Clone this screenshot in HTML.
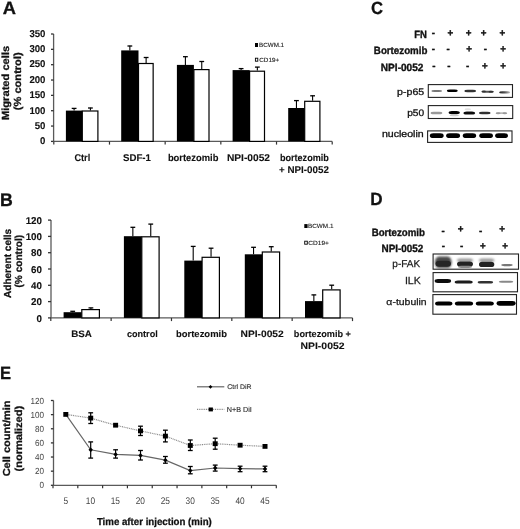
<!DOCTYPE html>
<html><head><meta charset="utf-8"><style>
html,body{margin:0;padding:0;background:#fff;}
svg{display:block;font-family:"Liberation Sans", sans-serif;text-rendering:geometricPrecision;filter:grayscale(1) blur(0.35px);}
</style></head><body>
<svg width="520" height="529" viewBox="0 0 520 529">
<defs>
<linearGradient id="gp5" x1="0" x2="1" y1="0" y2="0"><stop offset="0" stop-color="#222"/><stop offset="0.5" stop-color="#555"/><stop offset="1" stop-color="#bbb"/></linearGradient>
<filter id="b5" x="-20%" y="-100%" width="140%" height="300%"><feGaussianBlur stdDeviation="0.5"/></filter>
<filter id="b6" x="-20%" y="-100%" width="140%" height="300%"><feGaussianBlur stdDeviation="0.6"/></filter>
<filter id="b7" x="-20%" y="-100%" width="140%" height="300%"><feGaussianBlur stdDeviation="0.7"/></filter>
<filter id="b8" x="-20%" y="-100%" width="140%" height="300%"><feGaussianBlur stdDeviation="0.8"/></filter>
<filter id="b10" x="-20%" y="-100%" width="140%" height="300%"><feGaussianBlur stdDeviation="1.0"/></filter>
</defs>
<rect width="520" height="529" fill="#fff"/>
<text x="2.74" y="13.60" font-size="17.88" font-weight="bold" fill="#111" textLength="13.24" lengthAdjust="spacingAndGlyphs" stroke="#111" stroke-width="0.3">A</text>
<line x1="53.60" y1="34.00" x2="53.60" y2="141.40" stroke="#5a5a5a" stroke-width="1.3" />
<line x1="51.00" y1="141.40" x2="53.60" y2="141.40" stroke="#333" stroke-width="1.3" />
<text x="40.06" y="144.20" font-size="9.88" font-weight="bold" fill="#111" textLength="5.34" lengthAdjust="spacingAndGlyphs" stroke="#111" stroke-width="0.1">0</text>
<line x1="51.00" y1="126.06" x2="53.60" y2="126.06" stroke="#333" stroke-width="1.3" />
<text x="34.72" y="128.86" font-size="9.88" font-weight="bold" fill="#111" textLength="10.68" lengthAdjust="spacingAndGlyphs" stroke="#111" stroke-width="0.1">50</text>
<line x1="51.00" y1="110.71" x2="53.60" y2="110.71" stroke="#333" stroke-width="1.3" />
<text x="29.38" y="113.51" font-size="9.88" font-weight="bold" fill="#111" textLength="16.01" lengthAdjust="spacingAndGlyphs" stroke="#111" stroke-width="0.1">100</text>
<line x1="51.00" y1="95.37" x2="53.60" y2="95.37" stroke="#333" stroke-width="1.3" />
<text x="29.38" y="98.17" font-size="9.88" font-weight="bold" fill="#111" textLength="16.01" lengthAdjust="spacingAndGlyphs" stroke="#111" stroke-width="0.1">150</text>
<line x1="51.00" y1="80.03" x2="53.60" y2="80.03" stroke="#333" stroke-width="1.3" />
<text x="29.38" y="82.83" font-size="9.88" font-weight="bold" fill="#111" textLength="16.01" lengthAdjust="spacingAndGlyphs" stroke="#111" stroke-width="0.1">200</text>
<line x1="51.00" y1="64.69" x2="53.60" y2="64.69" stroke="#333" stroke-width="1.3" />
<text x="29.38" y="67.49" font-size="9.88" font-weight="bold" fill="#111" textLength="16.01" lengthAdjust="spacingAndGlyphs" stroke="#111" stroke-width="0.1">250</text>
<line x1="51.00" y1="49.34" x2="53.60" y2="49.34" stroke="#333" stroke-width="1.3" />
<text x="29.38" y="52.14" font-size="9.88" font-weight="bold" fill="#111" textLength="16.01" lengthAdjust="spacingAndGlyphs" stroke="#111" stroke-width="0.1">300</text>
<line x1="51.00" y1="34.00" x2="53.60" y2="34.00" stroke="#333" stroke-width="1.3" />
<text x="29.38" y="36.80" font-size="9.88" font-weight="bold" fill="#111" textLength="16.01" lengthAdjust="spacingAndGlyphs" stroke="#111" stroke-width="0.1">350</text>
<line x1="53.60" y1="141.40" x2="332.20" y2="141.40" stroke="#5a5a5a" stroke-width="1.3" />
<line x1="53.80" y1="141.40" x2="53.80" y2="144.60" stroke="#333" stroke-width="1.2" />
<line x1="109.48" y1="141.40" x2="109.48" y2="144.60" stroke="#333" stroke-width="1.2" />
<line x1="165.16" y1="141.40" x2="165.16" y2="144.60" stroke="#333" stroke-width="1.2" />
<line x1="220.84" y1="141.40" x2="220.84" y2="144.60" stroke="#333" stroke-width="1.2" />
<line x1="276.52" y1="141.40" x2="276.52" y2="144.60" stroke="#333" stroke-width="1.2" />
<line x1="332.20" y1="141.40" x2="332.20" y2="144.60" stroke="#333" stroke-width="1.2" />
<rect x="65.90" y="110.60" width="16.40" height="30.80" fill="#000" stroke="none" stroke-width="1" />
<rect x="82.30" y="111.00" width="15.60" height="30.40" fill="#fff" stroke="#000" stroke-width="1.2" />
<line x1="74.10" y1="108.20" x2="74.10" y2="110.60" stroke="#000" stroke-width="1.1" />
<line x1="71.70" y1="108.40" x2="76.50" y2="108.40" stroke="#000" stroke-width="1.3" />
<line x1="90.40" y1="107.80" x2="90.40" y2="110.40" stroke="#000" stroke-width="1.1" />
<line x1="88.00" y1="108.00" x2="92.80" y2="108.00" stroke="#000" stroke-width="1.3" />
<rect x="121.20" y="50.40" width="17.30" height="91.00" fill="#000" stroke="none" stroke-width="1" />
<rect x="138.50" y="63.50" width="14.65" height="77.90" fill="#fff" stroke="#000" stroke-width="1.2" />
<line x1="129.85" y1="45.80" x2="129.85" y2="50.40" stroke="#000" stroke-width="1.1" />
<line x1="127.45" y1="46.00" x2="132.25" y2="46.00" stroke="#000" stroke-width="1.3" />
<line x1="146.12" y1="57.30" x2="146.12" y2="62.90" stroke="#000" stroke-width="1.1" />
<line x1="143.72" y1="57.50" x2="148.53" y2="57.50" stroke="#000" stroke-width="1.3" />
<rect x="176.90" y="64.90" width="17.00" height="76.50" fill="#000" stroke="none" stroke-width="1" />
<rect x="193.90" y="69.60" width="15.10" height="71.80" fill="#fff" stroke="#000" stroke-width="1.2" />
<line x1="185.40" y1="56.50" x2="185.40" y2="64.90" stroke="#000" stroke-width="1.1" />
<line x1="183.00" y1="56.70" x2="187.80" y2="56.70" stroke="#000" stroke-width="1.3" />
<line x1="201.75" y1="61.30" x2="201.75" y2="69.00" stroke="#000" stroke-width="1.1" />
<line x1="199.35" y1="61.50" x2="204.15" y2="61.50" stroke="#000" stroke-width="1.3" />
<rect x="232.60" y="70.10" width="17.00" height="71.30" fill="#000" stroke="none" stroke-width="1" />
<rect x="249.60" y="71.20" width="14.90" height="70.20" fill="#fff" stroke="#000" stroke-width="1.2" />
<line x1="241.10" y1="68.40" x2="241.10" y2="70.10" stroke="#000" stroke-width="1.1" />
<line x1="238.70" y1="68.60" x2="243.50" y2="68.60" stroke="#000" stroke-width="1.3" />
<line x1="257.35" y1="66.90" x2="257.35" y2="70.60" stroke="#000" stroke-width="1.1" />
<line x1="254.95" y1="67.10" x2="259.75" y2="67.10" stroke="#000" stroke-width="1.3" />
<rect x="288.20" y="108.00" width="16.50" height="33.40" fill="#000" stroke="none" stroke-width="1" />
<rect x="304.70" y="101.30" width="15.20" height="40.10" fill="#fff" stroke="#000" stroke-width="1.2" />
<line x1="296.45" y1="100.40" x2="296.45" y2="108.00" stroke="#000" stroke-width="1.1" />
<line x1="294.05" y1="100.60" x2="298.85" y2="100.60" stroke="#000" stroke-width="1.3" />
<line x1="312.60" y1="95.60" x2="312.60" y2="100.70" stroke="#000" stroke-width="1.1" />
<line x1="310.20" y1="95.80" x2="315.00" y2="95.80" stroke="#000" stroke-width="1.3" />
<text x="74.42" y="160.70" font-size="9.80" font-weight="bold" fill="#111" textLength="15.83" lengthAdjust="spacingAndGlyphs" stroke="#111" stroke-width="0.1">Ctrl</text>
<text x="123.02" y="160.70" font-size="9.80" font-weight="bold" fill="#111" textLength="27.95" lengthAdjust="spacingAndGlyphs" stroke="#111" stroke-width="0.1">SDF-1</text>
<text x="167.88" y="160.70" font-size="9.80" font-weight="bold" fill="#111" textLength="50.50" lengthAdjust="spacingAndGlyphs" stroke="#111" stroke-width="0.1">bortezomib</text>
<text x="226.92" y="160.70" font-size="9.80" font-weight="bold" fill="#111" textLength="43.09" lengthAdjust="spacingAndGlyphs" stroke="#111" stroke-width="0.1">NPI-0052</text>
<text x="279.90" y="160.90" font-size="9.80" font-weight="bold" fill="#111" textLength="48.97" lengthAdjust="spacingAndGlyphs" stroke="#111" stroke-width="0.1">bortezomib</text>
<text x="279.09" y="172.70" font-size="9.80" font-weight="bold" fill="#111" textLength="49.80" lengthAdjust="spacingAndGlyphs" stroke="#111" stroke-width="0.1">+ NPI-0052</text>
<rect x="255.00" y="43.00" width="3.00" height="4.00" fill="#000" stroke="none" stroke-width="1" />
<text x="259.09" y="47.00" font-size="6.16" font-weight="normal" fill="#222" textLength="25.02" lengthAdjust="spacingAndGlyphs" stroke="#222" stroke-width="0.12">BCWM.1</text>
<rect x="255.40" y="58.20" width="2.40" height="3.00" fill="#fff" stroke="#000" stroke-width="0.9" />
<text x="259.28" y="61.60" font-size="6.16" font-weight="normal" fill="#222" textLength="19.83" lengthAdjust="spacingAndGlyphs" stroke="#222" stroke-width="0.12">CD19+</text>
<text transform="translate(8.70,119.30) rotate(-90)" x="-0.74" y="0" font-size="10.32" font-weight="bold" fill="#111" textLength="74.20" lengthAdjust="spacingAndGlyphs" stroke="#111" stroke-width="0.28">Migrated cells</text>
<text transform="translate(20.80,109.60) rotate(-90)" x="-0.55" y="0" font-size="10.32" font-weight="bold" fill="#111" textLength="57.80" lengthAdjust="spacingAndGlyphs" stroke="#111" stroke-width="0.28">(% control)</text>
<text x="0.02" y="206.00" font-size="18.31" font-weight="bold" fill="#111" textLength="12.79" lengthAdjust="spacingAndGlyphs" stroke="#111" stroke-width="0.3">B</text>
<line x1="51.00" y1="220.10" x2="51.00" y2="317.90" stroke="#5a5a5a" stroke-width="1.3" />
<line x1="48.00" y1="317.90" x2="51.00" y2="317.90" stroke="#333" stroke-width="1.3" />
<text x="36.56" y="321.50" font-size="9.88" font-weight="bold" fill="#111" textLength="5.44" lengthAdjust="spacingAndGlyphs" stroke="#111" stroke-width="0.1">0</text>
<line x1="48.00" y1="301.60" x2="51.00" y2="301.60" stroke="#333" stroke-width="1.3" />
<text x="31.12" y="305.20" font-size="9.88" font-weight="bold" fill="#111" textLength="10.88" lengthAdjust="spacingAndGlyphs" stroke="#111" stroke-width="0.1">20</text>
<line x1="48.00" y1="285.30" x2="51.00" y2="285.30" stroke="#333" stroke-width="1.3" />
<text x="31.12" y="288.90" font-size="9.88" font-weight="bold" fill="#111" textLength="10.88" lengthAdjust="spacingAndGlyphs" stroke="#111" stroke-width="0.1">40</text>
<line x1="48.00" y1="269.00" x2="51.00" y2="269.00" stroke="#333" stroke-width="1.3" />
<text x="31.12" y="272.60" font-size="9.88" font-weight="bold" fill="#111" textLength="10.88" lengthAdjust="spacingAndGlyphs" stroke="#111" stroke-width="0.1">60</text>
<line x1="48.00" y1="252.70" x2="51.00" y2="252.70" stroke="#333" stroke-width="1.3" />
<text x="31.12" y="256.30" font-size="9.88" font-weight="bold" fill="#111" textLength="10.88" lengthAdjust="spacingAndGlyphs" stroke="#111" stroke-width="0.1">80</text>
<line x1="48.00" y1="236.40" x2="51.00" y2="236.40" stroke="#333" stroke-width="1.3" />
<text x="25.68" y="240.00" font-size="9.88" font-weight="bold" fill="#111" textLength="16.32" lengthAdjust="spacingAndGlyphs" stroke="#111" stroke-width="0.1">100</text>
<line x1="48.00" y1="220.10" x2="51.00" y2="220.10" stroke="#333" stroke-width="1.3" />
<text x="25.68" y="223.70" font-size="9.88" font-weight="bold" fill="#111" textLength="16.32" lengthAdjust="spacingAndGlyphs" stroke="#111" stroke-width="0.1">120</text>
<line x1="51.00" y1="317.90" x2="352.50" y2="317.90" stroke="#5a5a5a" stroke-width="1.3" />
<line x1="50.80" y1="317.90" x2="50.80" y2="321.10" stroke="#333" stroke-width="1.2" />
<line x1="111.14" y1="317.90" x2="111.14" y2="321.10" stroke="#333" stroke-width="1.2" />
<line x1="171.48" y1="317.90" x2="171.48" y2="321.10" stroke="#333" stroke-width="1.2" />
<line x1="231.82" y1="317.90" x2="231.82" y2="321.10" stroke="#333" stroke-width="1.2" />
<line x1="292.16" y1="317.90" x2="292.16" y2="321.10" stroke="#333" stroke-width="1.2" />
<line x1="352.50" y1="317.90" x2="352.50" y2="321.10" stroke="#333" stroke-width="1.2" />
<rect x="63.60" y="312.20" width="18.20" height="5.70" fill="#000" stroke="none" stroke-width="1" />
<rect x="81.80" y="309.60" width="17.60" height="8.30" fill="#fff" stroke="#000" stroke-width="1.2" />
<line x1="72.70" y1="311.10" x2="72.70" y2="312.20" stroke="#000" stroke-width="1.1" />
<line x1="70.30" y1="311.30" x2="75.10" y2="311.30" stroke="#000" stroke-width="1.3" />
<line x1="90.90" y1="307.70" x2="90.90" y2="309.00" stroke="#000" stroke-width="1.1" />
<line x1="88.50" y1="307.90" x2="93.30" y2="307.90" stroke="#000" stroke-width="1.3" />
<rect x="123.90" y="236.20" width="17.90" height="81.70" fill="#000" stroke="none" stroke-width="1" />
<rect x="141.80" y="236.80" width="17.30" height="81.10" fill="#fff" stroke="#000" stroke-width="1.2" />
<line x1="132.85" y1="227.10" x2="132.85" y2="236.20" stroke="#000" stroke-width="1.1" />
<line x1="130.45" y1="227.30" x2="135.25" y2="227.30" stroke="#000" stroke-width="1.3" />
<line x1="150.75" y1="223.90" x2="150.75" y2="236.20" stroke="#000" stroke-width="1.1" />
<line x1="148.35" y1="224.10" x2="153.15" y2="224.10" stroke="#000" stroke-width="1.3" />
<rect x="184.30" y="260.60" width="17.80" height="57.30" fill="#000" stroke="none" stroke-width="1" />
<rect x="202.10" y="257.30" width="17.30" height="60.60" fill="#fff" stroke="#000" stroke-width="1.2" />
<line x1="193.20" y1="246.20" x2="193.20" y2="260.60" stroke="#000" stroke-width="1.1" />
<line x1="190.80" y1="246.40" x2="195.60" y2="246.40" stroke="#000" stroke-width="1.3" />
<line x1="211.05" y1="248.00" x2="211.05" y2="256.70" stroke="#000" stroke-width="1.1" />
<line x1="208.65" y1="248.20" x2="213.45" y2="248.20" stroke="#000" stroke-width="1.3" />
<rect x="244.80" y="254.30" width="17.50" height="63.60" fill="#000" stroke="none" stroke-width="1" />
<rect x="262.30" y="252.00" width="17.30" height="65.90" fill="#fff" stroke="#000" stroke-width="1.2" />
<line x1="253.55" y1="247.10" x2="253.55" y2="254.30" stroke="#000" stroke-width="1.1" />
<line x1="251.15" y1="247.30" x2="255.95" y2="247.30" stroke="#000" stroke-width="1.3" />
<line x1="271.25" y1="246.50" x2="271.25" y2="251.40" stroke="#000" stroke-width="1.1" />
<line x1="268.85" y1="246.70" x2="273.65" y2="246.70" stroke="#000" stroke-width="1.3" />
<rect x="305.00" y="301.10" width="17.70" height="16.80" fill="#000" stroke="none" stroke-width="1" />
<rect x="322.70" y="289.90" width="17.40" height="28.00" fill="#fff" stroke="#000" stroke-width="1.2" />
<line x1="313.85" y1="294.70" x2="313.85" y2="301.10" stroke="#000" stroke-width="1.1" />
<line x1="311.45" y1="294.90" x2="316.25" y2="294.90" stroke="#000" stroke-width="1.3" />
<line x1="331.70" y1="285.00" x2="331.70" y2="289.30" stroke="#000" stroke-width="1.1" />
<line x1="329.30" y1="285.20" x2="334.10" y2="285.20" stroke="#000" stroke-width="1.3" />
<text x="71.24" y="337.10" font-size="9.31" font-weight="bold" fill="#111" textLength="20.72" lengthAdjust="spacingAndGlyphs" stroke="#111" stroke-width="0.1">BSA</text>
<text x="126.94" y="337.10" font-size="9.31" font-weight="bold" fill="#111" textLength="30.80" lengthAdjust="spacingAndGlyphs" stroke="#111" stroke-width="0.1">control</text>
<text x="175.98" y="336.80" font-size="9.31" font-weight="bold" fill="#111" textLength="51.01" lengthAdjust="spacingAndGlyphs" stroke="#111" stroke-width="0.1">bortezomib</text>
<text x="240.52" y="336.80" font-size="9.31" font-weight="bold" fill="#111" textLength="43.19" lengthAdjust="spacingAndGlyphs" stroke="#111" stroke-width="0.1">NPI-0052</text>
<text x="293.80" y="336.90" font-size="9.31" font-weight="bold" fill="#111" textLength="57.17" lengthAdjust="spacingAndGlyphs" stroke="#111" stroke-width="0.1">bortezomib +</text>
<text x="300.50" y="348.70" font-size="9.31" font-weight="bold" fill="#111" textLength="44.01" lengthAdjust="spacingAndGlyphs" stroke="#111" stroke-width="0.1">NPI-0052</text>
<rect x="304.30" y="224.10" width="3.30" height="3.90" fill="#000" stroke="none" stroke-width="1" />
<text x="308.08" y="228.20" font-size="6.16" font-weight="normal" fill="#222" textLength="25.33" lengthAdjust="spacingAndGlyphs" stroke="#222" stroke-width="0.12">BCWM.1</text>
<rect x="304.70" y="241.20" width="2.60" height="3.00" fill="#fff" stroke="#000" stroke-width="0.9" />
<text x="308.27" y="244.70" font-size="6.16" font-weight="normal" fill="#222" textLength="20.66" lengthAdjust="spacingAndGlyphs" stroke="#222" stroke-width="0.12">CD19+</text>
<text transform="translate(11.30,297.70) rotate(-90)" x="-0.25" y="0" font-size="10.17" font-weight="bold" fill="#111" textLength="69.06" lengthAdjust="spacingAndGlyphs" stroke="#111" stroke-width="0.28">Adherent cells</text>
<text transform="translate(21.60,287.00) rotate(-90)" x="-0.50" y="0" font-size="10.17" font-weight="bold" fill="#111" textLength="52.71" lengthAdjust="spacingAndGlyphs" stroke="#111" stroke-width="0.28">(% control)</text>
<text x="371.12" y="13.80" font-size="17.73" font-weight="bold" fill="#111" textLength="12.04" lengthAdjust="spacingAndGlyphs" stroke="#111" stroke-width="0.3">C</text>
<text x="414.16" y="37.50" font-size="10.47" font-weight="bold" fill="#111" textLength="12.68" lengthAdjust="spacingAndGlyphs" stroke="#111" stroke-width="0.35">FN</text>
<text x="373.85" y="53.80" font-size="10.47" font-weight="bold" fill="#111" textLength="53.55" lengthAdjust="spacingAndGlyphs" stroke="#111" stroke-width="0.35">Bortezomib</text>
<text x="380.83" y="70.80" font-size="10.47" font-weight="bold" fill="#111" textLength="42.58" lengthAdjust="spacingAndGlyphs" stroke="#111" stroke-width="0.35">NPI-0052</text>
<text x="431.87" y="35.80" font-size="9.80" font-weight="bold" fill="#111" textLength="3.26" lengthAdjust="spacingAndGlyphs" stroke="#111" stroke-width="0.35">-</text>
<text x="447.43" y="35.80" font-size="9.80" font-weight="bold" fill="#111" textLength="5.72" lengthAdjust="spacingAndGlyphs" stroke="#111" stroke-width="0.35">+</text>
<text x="465.83" y="35.80" font-size="9.80" font-weight="bold" fill="#111" textLength="5.72" lengthAdjust="spacingAndGlyphs" stroke="#111" stroke-width="0.35">+</text>
<text x="480.63" y="35.80" font-size="9.80" font-weight="bold" fill="#111" textLength="5.72" lengthAdjust="spacingAndGlyphs" stroke="#111" stroke-width="0.35">+</text>
<text x="499.53" y="35.80" font-size="9.80" font-weight="bold" fill="#111" textLength="5.72" lengthAdjust="spacingAndGlyphs" stroke="#111" stroke-width="0.35">+</text>
<text x="431.87" y="51.50" font-size="9.80" font-weight="bold" fill="#111" textLength="3.26" lengthAdjust="spacingAndGlyphs" stroke="#111" stroke-width="0.35">-</text>
<text x="446.57" y="51.50" font-size="9.80" font-weight="bold" fill="#111" textLength="3.26" lengthAdjust="spacingAndGlyphs" stroke="#111" stroke-width="0.35">-</text>
<text x="466.13" y="51.50" font-size="9.80" font-weight="bold" fill="#111" textLength="5.72" lengthAdjust="spacingAndGlyphs" stroke="#111" stroke-width="0.35">+</text>
<text x="483.67" y="51.50" font-size="9.80" font-weight="bold" fill="#111" textLength="3.26" lengthAdjust="spacingAndGlyphs" stroke="#111" stroke-width="0.35">-</text>
<text x="500.13" y="51.50" font-size="9.80" font-weight="bold" fill="#111" textLength="5.72" lengthAdjust="spacingAndGlyphs" stroke="#111" stroke-width="0.35">+</text>
<text x="432.17" y="69.20" font-size="9.80" font-weight="bold" fill="#111" textLength="3.26" lengthAdjust="spacingAndGlyphs" stroke="#111" stroke-width="0.35">-</text>
<text x="447.37" y="69.20" font-size="9.80" font-weight="bold" fill="#111" textLength="3.26" lengthAdjust="spacingAndGlyphs" stroke="#111" stroke-width="0.35">-</text>
<text x="465.97" y="69.20" font-size="9.80" font-weight="bold" fill="#111" textLength="3.26" lengthAdjust="spacingAndGlyphs" stroke="#111" stroke-width="0.35">-</text>
<text x="482.03" y="69.20" font-size="9.80" font-weight="bold" fill="#111" textLength="5.72" lengthAdjust="spacingAndGlyphs" stroke="#111" stroke-width="0.35">+</text>
<text x="500.13" y="69.20" font-size="9.80" font-weight="bold" fill="#111" textLength="5.72" lengthAdjust="spacingAndGlyphs" stroke="#111" stroke-width="0.35">+</text>
<rect x="428.30" y="84.60" width="84.20" height="12.80" fill="#fff" stroke="#222" stroke-width="1.1" />
<rect x="428.30" y="105.60" width="84.40" height="12.90" fill="#fff" stroke="#222" stroke-width="1.1" />
<rect x="427.60" y="130.90" width="84.40" height="11.50" fill="#fff" stroke="#222" stroke-width="1.1" />
<rect x="431.3" y="90.10" width="10.80" height="2.0" rx="3.20" ry="1.0" fill="#777" opacity="1" filter="url(#b5)"/>
<rect x="446.9" y="89.40" width="10.80" height="2.6" rx="3.20" ry="1.3" fill="#000" opacity="1" filter="url(#b5)"/>
<rect x="464.4" y="89.80" width="11.60" height="2.4" rx="3.20" ry="1.2" fill="#333" opacity="1" filter="url(#b5)"/>
<rect x="481.5" y="90.75" width="12.20" height="1.9" rx="3.20" ry="0.95" fill="#555" opacity="1" filter="url(#b5)"/>
<rect x="481.5" y="90.60" width="4.50" height="2.0" rx="2.25" ry="1.0" fill="#333" opacity="1" filter="url(#b5)"/>
<rect x="488.5" y="90.80" width="5.20" height="2.0" rx="2.60" ry="1.0" fill="#333" opacity="1" filter="url(#b5)"/>
<rect x="499.1" y="91.35" width="11.10" height="2.1" rx="3.20" ry="1.05" fill="url(#gp5)" opacity="1" filter="url(#b5)"/>
<rect x="430.6" y="111.70" width="11.70" height="2.6" rx="3.20" ry="1.3" fill="#999" opacity="1" filter="url(#b6)"/>
<rect x="448.6" y="110.90" width="11.20" height="3.4" rx="3.20" ry="1.7" fill="#000" opacity="1" filter="url(#b5)"/>
<rect x="449.5" y="114.60" width="9.50" height="1.6" rx="3.20" ry="0.8" fill="#ccc" opacity="1" filter="url(#b7)"/>
<rect x="463.5" y="111.40" width="11.60" height="3.2" rx="3.20" ry="1.6" fill="#111" opacity="1" filter="url(#b5)"/>
<rect x="464.5" y="108.20" width="6.50" height="2.0" rx="3.20" ry="1.0" fill="#e0e0e0" opacity="1" filter="url(#b7)"/>
<rect x="479.0" y="111.80" width="11.50" height="2.4" rx="3.20" ry="1.2" fill="#333" opacity="1" filter="url(#b5)"/>
<rect x="495.6" y="112.35" width="11.70" height="1.7" rx="3.20" ry="0.85" fill="#bbb" opacity="1" filter="url(#b5)"/>
<rect x="495.8" y="112.20" width="4.70" height="2.0" rx="2.35" ry="1.0" fill="#999" opacity="1" filter="url(#b5)"/>
<rect x="502.5" y="112.30" width="4.50" height="2.0" rx="2.25" ry="1.0" fill="#999" opacity="1" filter="url(#b5)"/>
<rect x="429.8" y="133.20" width="13.90" height="4.9" rx="3.60" ry="2.45" fill="#000" opacity="1" filter="url(#b5)"/>
<rect x="446.1" y="133.20" width="14.00" height="4.9" rx="3.60" ry="2.45" fill="#000" opacity="1" filter="url(#b5)"/>
<rect x="462.7" y="133.20" width="13.50" height="4.9" rx="3.60" ry="2.45" fill="#000" opacity="1" filter="url(#b5)"/>
<rect x="479.2" y="133.20" width="13.80" height="4.9" rx="3.60" ry="2.45" fill="#000" opacity="1" filter="url(#b5)"/>
<rect x="495.1" y="133.20" width="12.90" height="4.9" rx="3.60" ry="2.45" fill="#000" opacity="1" filter="url(#b5)"/>
<text x="397.12" y="94.80" font-size="9.45" font-weight="normal" fill="#111" textLength="27.02" lengthAdjust="spacingAndGlyphs" stroke="#111" stroke-width="0.3">p-p65</text>
<text x="407.15" y="116.40" font-size="9.45" font-weight="normal" fill="#111" textLength="16.95" lengthAdjust="spacingAndGlyphs" stroke="#111" stroke-width="0.3">p50</text>
<text x="382.00" y="137.20" font-size="9.45" font-weight="normal" fill="#111" textLength="41.69" lengthAdjust="spacingAndGlyphs" stroke="#111" stroke-width="0.3">nucleolin</text>
<text x="370.35" y="205.40" font-size="17.73" font-weight="bold" fill="#111" textLength="12.36" lengthAdjust="spacingAndGlyphs" stroke="#111" stroke-width="0.3">D</text>
<text x="371.65" y="235.50" font-size="10.47" font-weight="bold" fill="#111" textLength="53.35" lengthAdjust="spacingAndGlyphs" stroke="#111" stroke-width="0.35">Bortezomib</text>
<text x="381.54" y="251.50" font-size="10.47" font-weight="bold" fill="#111" textLength="41.86" lengthAdjust="spacingAndGlyphs" stroke="#111" stroke-width="0.35">NPI-0052</text>
<text x="441.57" y="233.50" font-size="9.80" font-weight="bold" fill="#111" textLength="3.26" lengthAdjust="spacingAndGlyphs" stroke="#111" stroke-width="0.35">-</text>
<text x="457.63" y="232.20" font-size="9.80" font-weight="bold" fill="#111" textLength="5.72" lengthAdjust="spacingAndGlyphs" stroke="#111" stroke-width="0.35">+</text>
<text x="478.97" y="233.50" font-size="9.80" font-weight="bold" fill="#111" textLength="3.26" lengthAdjust="spacingAndGlyphs" stroke="#111" stroke-width="0.35">-</text>
<text x="499.33" y="232.20" font-size="9.80" font-weight="bold" fill="#111" textLength="5.72" lengthAdjust="spacingAndGlyphs" stroke="#111" stroke-width="0.35">+</text>
<text x="441.77" y="248.90" font-size="9.80" font-weight="bold" fill="#111" textLength="3.26" lengthAdjust="spacingAndGlyphs" stroke="#111" stroke-width="0.35">-</text>
<text x="460.07" y="248.90" font-size="9.80" font-weight="bold" fill="#111" textLength="3.26" lengthAdjust="spacingAndGlyphs" stroke="#111" stroke-width="0.35">-</text>
<text x="479.93" y="248.60" font-size="9.80" font-weight="bold" fill="#111" textLength="5.72" lengthAdjust="spacingAndGlyphs" stroke="#111" stroke-width="0.35">+</text>
<text x="502.33" y="248.60" font-size="9.80" font-weight="bold" fill="#111" textLength="5.72" lengthAdjust="spacingAndGlyphs" stroke="#111" stroke-width="0.35">+</text>
<rect x="433.10" y="254.00" width="85.40" height="15.20" fill="#fff" stroke="#222" stroke-width="1.1" />
<rect x="433.10" y="272.60" width="84.40" height="19.20" fill="#fff" stroke="#222" stroke-width="1.1" />
<rect x="432.90" y="294.60" width="83.60" height="19.60" fill="#fff" stroke="#222" stroke-width="1.1" />
<rect x="434.9" y="256.50" width="16.70" height="11.6" rx="4.00" ry="5.8" fill="#4a4a4a" opacity="1" filter="url(#b8)"/>
<rect x="435.5" y="260.80" width="15.50" height="6.0" rx="4.00" ry="3.0" fill="#262626" opacity="1" filter="url(#b9)"/>
<rect x="457.0" y="258.50" width="16.00" height="3.6" rx="3.20" ry="1.8" fill="#999" opacity="1" filter="url(#b8)"/>
<rect x="457.0" y="261.50" width="16.00" height="5.0" rx="3.20" ry="2.5" fill="#222" opacity="1" filter="url(#b6)"/>
<rect x="458.0" y="265.70" width="14.00" height="2.2" rx="3.20" ry="1.1" fill="#888" opacity="1" filter="url(#b7)"/>
<rect x="479.0" y="258.50" width="15.30" height="3.6" rx="3.20" ry="1.8" fill="#999" opacity="1" filter="url(#b8)"/>
<rect x="479.0" y="261.70" width="15.30" height="5.4" rx="3.20" ry="2.7" fill="#222" opacity="1" filter="url(#b6)"/>
<rect x="501.3" y="264.00" width="11.50" height="2.2" rx="3.20" ry="1.1" fill="#777" opacity="1" filter="url(#b6)"/>
<rect x="434.7" y="279.05" width="16.40" height="3.9" rx="3.20" ry="1.95" fill="#0a0a0a" opacity="1" filter="url(#b5)"/>
<rect x="454.7" y="280.40" width="18.00" height="3.2" rx="3.20" ry="1.6" fill="#1a1a1a" opacity="1" filter="url(#b5)"/>
<rect x="477.7" y="281.00" width="15.40" height="2.6" rx="3.20" ry="1.3" fill="#333" opacity="1" filter="url(#b5)"/>
<rect x="498.8" y="280.75" width="14.50" height="1.9" rx="3.20" ry="0.95" fill="#888" opacity="1" filter="url(#b5)"/>
<rect x="435.1" y="301.50" width="17.30" height="4.0" rx="3.20" ry="2.0" fill="#000" opacity="1" filter="url(#b5)"/>
<rect x="454.9" y="301.50" width="18.20" height="4.0" rx="3.20" ry="2.0" fill="#000" opacity="1" filter="url(#b5)"/>
<rect x="475.8" y="301.50" width="18.00" height="4.0" rx="3.20" ry="2.0" fill="#000" opacity="1" filter="url(#b5)"/>
<rect x="496.6" y="300.90" width="19.00" height="4.8" rx="3.20" ry="2.4" fill="#000" opacity="1" filter="url(#b5)"/>
<text x="392.37" y="266.70" font-size="9.88" font-weight="normal" fill="#1a1a1a" textLength="27.74" lengthAdjust="spacingAndGlyphs" stroke="#1a1a1a" stroke-width="0.25">p-FAK</text>
<text x="404.92" y="284.20" font-size="10.32" font-weight="normal" fill="#1a1a1a" textLength="15.90" lengthAdjust="spacingAndGlyphs" stroke="#1a1a1a" stroke-width="0.25">ILK</text>
<text x="386.36" y="304.50" font-size="9.25" font-weight="normal" fill="#1a1a1a" textLength="40.32" lengthAdjust="spacingAndGlyphs" stroke="#1a1a1a" stroke-width="0.25">α-tubulin</text>
<text x="0.09" y="379.40" font-size="17.73" font-weight="bold" fill="#111" textLength="11.06" lengthAdjust="spacingAndGlyphs" stroke="#111" stroke-width="0.3">E</text>
<line x1="53.50" y1="400.50" x2="53.50" y2="485.30" stroke="#5a5a5a" stroke-width="1.3" />
<line x1="50.90" y1="485.30" x2="53.50" y2="485.30" stroke="#333" stroke-width="1.3" />
<text x="39.41" y="488.40" font-size="8.88" font-weight="normal" fill="#444" textLength="4.51" lengthAdjust="spacingAndGlyphs">0</text>
<line x1="50.90" y1="471.17" x2="53.50" y2="471.17" stroke="#333" stroke-width="1.3" />
<text x="34.89" y="474.27" font-size="8.88" font-weight="normal" fill="#444" textLength="9.02" lengthAdjust="spacingAndGlyphs">20</text>
<line x1="50.90" y1="457.03" x2="53.50" y2="457.03" stroke="#333" stroke-width="1.3" />
<text x="34.89" y="460.13" font-size="8.88" font-weight="normal" fill="#444" textLength="9.02" lengthAdjust="spacingAndGlyphs">40</text>
<line x1="50.90" y1="442.90" x2="53.50" y2="442.90" stroke="#333" stroke-width="1.3" />
<text x="34.89" y="446.00" font-size="8.88" font-weight="normal" fill="#444" textLength="9.02" lengthAdjust="spacingAndGlyphs">60</text>
<line x1="50.90" y1="428.77" x2="53.50" y2="428.77" stroke="#333" stroke-width="1.3" />
<text x="34.89" y="431.87" font-size="8.88" font-weight="normal" fill="#444" textLength="9.02" lengthAdjust="spacingAndGlyphs">80</text>
<line x1="50.90" y1="414.63" x2="53.50" y2="414.63" stroke="#333" stroke-width="1.3" />
<text x="30.38" y="417.73" font-size="8.88" font-weight="normal" fill="#444" textLength="13.53" lengthAdjust="spacingAndGlyphs">100</text>
<line x1="50.90" y1="400.50" x2="53.50" y2="400.50" stroke="#333" stroke-width="1.3" />
<text x="30.38" y="403.60" font-size="8.88" font-weight="normal" fill="#444" textLength="13.53" lengthAdjust="spacingAndGlyphs">120</text>
<line x1="53.50" y1="485.30" x2="276.30" y2="485.30" stroke="#5a5a5a" stroke-width="1.3" />
<line x1="53.00" y1="485.30" x2="53.00" y2="488.30" stroke="#333" stroke-width="1.2" />
<line x1="77.81" y1="485.30" x2="77.81" y2="488.30" stroke="#333" stroke-width="1.2" />
<line x1="102.62" y1="485.30" x2="102.62" y2="488.30" stroke="#333" stroke-width="1.2" />
<line x1="127.43" y1="485.30" x2="127.43" y2="488.30" stroke="#333" stroke-width="1.2" />
<line x1="152.24" y1="485.30" x2="152.24" y2="488.30" stroke="#333" stroke-width="1.2" />
<line x1="177.06" y1="485.30" x2="177.06" y2="488.30" stroke="#333" stroke-width="1.2" />
<line x1="201.87" y1="485.30" x2="201.87" y2="488.30" stroke="#333" stroke-width="1.2" />
<line x1="226.68" y1="485.30" x2="226.68" y2="488.30" stroke="#333" stroke-width="1.2" />
<line x1="251.49" y1="485.30" x2="251.49" y2="488.30" stroke="#333" stroke-width="1.2" />
<line x1="276.30" y1="485.30" x2="276.30" y2="488.30" stroke="#333" stroke-width="1.2" />
<text x="63.40" y="503.70" font-size="9.60" font-weight="normal" fill="#444" textLength="4.62" lengthAdjust="spacingAndGlyphs">5</text>
<text x="85.83" y="503.70" font-size="9.60" font-weight="normal" fill="#444" textLength="9.24" lengthAdjust="spacingAndGlyphs">10</text>
<text x="110.74" y="503.70" font-size="9.60" font-weight="normal" fill="#444" textLength="9.24" lengthAdjust="spacingAndGlyphs">15</text>
<text x="135.73" y="503.70" font-size="9.60" font-weight="normal" fill="#444" textLength="9.24" lengthAdjust="spacingAndGlyphs">20</text>
<text x="160.65" y="503.70" font-size="9.60" font-weight="normal" fill="#444" textLength="9.24" lengthAdjust="spacingAndGlyphs">25</text>
<text x="185.58" y="503.70" font-size="9.60" font-weight="normal" fill="#444" textLength="9.24" lengthAdjust="spacingAndGlyphs">30</text>
<text x="210.50" y="503.70" font-size="9.60" font-weight="normal" fill="#444" textLength="9.24" lengthAdjust="spacingAndGlyphs">35</text>
<text x="235.45" y="503.70" font-size="9.60" font-weight="normal" fill="#444" textLength="9.24" lengthAdjust="spacingAndGlyphs">40</text>
<text x="260.36" y="503.70" font-size="9.60" font-weight="normal" fill="#444" textLength="9.24" lengthAdjust="spacingAndGlyphs">45</text>
<text x="96.89" y="525.00" font-size="10.17" font-weight="bold" fill="#111" textLength="114.89" lengthAdjust="spacingAndGlyphs" stroke="#111" stroke-width="0.28">Time after injection (min)</text>
<text transform="translate(10.00,475.90) rotate(-90)" x="-0.45" y="0" font-size="10.17" font-weight="bold" fill="#111" textLength="75.94" lengthAdjust="spacingAndGlyphs" stroke="#111" stroke-width="0.28">Cell count/min</text>
<text transform="translate(21.70,471.00) rotate(-90)" x="-0.55" y="0" font-size="10.17" font-weight="bold" fill="#111" textLength="65.70" lengthAdjust="spacingAndGlyphs" stroke="#111" stroke-width="0.28">(normalized)</text>
<polyline points="65.8,414.4 90.7,418.1 115.6,425.2 140.5,430.9 165.4,436.1 190.3,445.5 215.2,443.7 240.1,445.2 265.0,446.4" fill="none" stroke="#8a8a8a" stroke-width="1.2" stroke-dasharray="1,0.8"/>
<polyline points="65.8,414.4 90.7,449.8 115.6,454.4 140.5,455.4 165.4,460.2 190.3,470.6 215.2,468.0 240.1,468.7 265.0,468.9" fill="none" stroke="#666" stroke-width="1.2"/>
<line x1="90.70" y1="412.80" x2="90.70" y2="423.50" stroke="#000" stroke-width="1.2" />
<line x1="88.30" y1="412.80" x2="93.10" y2="412.80" stroke="#000" stroke-width="1.3" />
<line x1="88.30" y1="423.50" x2="93.10" y2="423.50" stroke="#000" stroke-width="1.3" />
<line x1="90.70" y1="441.90" x2="90.70" y2="458.10" stroke="#000" stroke-width="1.2" />
<line x1="88.30" y1="441.90" x2="93.10" y2="441.90" stroke="#000" stroke-width="1.3" />
<line x1="88.30" y1="458.10" x2="93.10" y2="458.10" stroke="#000" stroke-width="1.3" />
<line x1="115.60" y1="449.80" x2="115.60" y2="458.10" stroke="#000" stroke-width="1.2" />
<line x1="113.20" y1="449.80" x2="118.00" y2="449.80" stroke="#000" stroke-width="1.3" />
<line x1="113.20" y1="458.10" x2="118.00" y2="458.10" stroke="#000" stroke-width="1.3" />
<line x1="140.50" y1="426.20" x2="140.50" y2="435.50" stroke="#000" stroke-width="1.2" />
<line x1="138.10" y1="426.20" x2="142.90" y2="426.20" stroke="#000" stroke-width="1.3" />
<line x1="138.10" y1="435.50" x2="142.90" y2="435.50" stroke="#000" stroke-width="1.3" />
<line x1="140.50" y1="450.50" x2="140.50" y2="460.00" stroke="#000" stroke-width="1.2" />
<line x1="138.10" y1="450.50" x2="142.90" y2="450.50" stroke="#000" stroke-width="1.3" />
<line x1="138.10" y1="460.00" x2="142.90" y2="460.00" stroke="#000" stroke-width="1.3" />
<line x1="165.40" y1="430.20" x2="165.40" y2="441.90" stroke="#000" stroke-width="1.2" />
<line x1="163.00" y1="430.20" x2="167.80" y2="430.20" stroke="#000" stroke-width="1.3" />
<line x1="163.00" y1="441.90" x2="167.80" y2="441.90" stroke="#000" stroke-width="1.3" />
<line x1="165.40" y1="456.50" x2="165.40" y2="463.20" stroke="#000" stroke-width="1.2" />
<line x1="163.00" y1="456.50" x2="167.80" y2="456.50" stroke="#000" stroke-width="1.3" />
<line x1="163.00" y1="463.20" x2="167.80" y2="463.20" stroke="#000" stroke-width="1.3" />
<line x1="190.30" y1="440.00" x2="190.30" y2="450.50" stroke="#000" stroke-width="1.2" />
<line x1="187.90" y1="440.00" x2="192.70" y2="440.00" stroke="#000" stroke-width="1.3" />
<line x1="187.90" y1="450.50" x2="192.70" y2="450.50" stroke="#000" stroke-width="1.3" />
<line x1="190.30" y1="466.50" x2="190.30" y2="473.80" stroke="#000" stroke-width="1.2" />
<line x1="187.90" y1="466.50" x2="192.70" y2="466.50" stroke="#000" stroke-width="1.3" />
<line x1="187.90" y1="473.80" x2="192.70" y2="473.80" stroke="#000" stroke-width="1.3" />
<line x1="215.20" y1="438.20" x2="215.20" y2="449.20" stroke="#000" stroke-width="1.2" />
<line x1="212.80" y1="438.20" x2="217.60" y2="438.20" stroke="#000" stroke-width="1.3" />
<line x1="212.80" y1="449.20" x2="217.60" y2="449.20" stroke="#000" stroke-width="1.3" />
<line x1="215.20" y1="465.10" x2="215.20" y2="471.10" stroke="#000" stroke-width="1.2" />
<line x1="212.80" y1="465.10" x2="217.60" y2="465.10" stroke="#000" stroke-width="1.3" />
<line x1="212.80" y1="471.10" x2="217.60" y2="471.10" stroke="#000" stroke-width="1.3" />
<line x1="240.10" y1="466.20" x2="240.10" y2="471.70" stroke="#000" stroke-width="1.2" />
<line x1="237.70" y1="466.20" x2="242.50" y2="466.20" stroke="#000" stroke-width="1.3" />
<line x1="237.70" y1="471.70" x2="242.50" y2="471.70" stroke="#000" stroke-width="1.3" />
<line x1="265.00" y1="466.20" x2="265.00" y2="471.70" stroke="#000" stroke-width="1.2" />
<line x1="262.60" y1="466.20" x2="267.40" y2="466.20" stroke="#000" stroke-width="1.3" />
<line x1="262.60" y1="471.70" x2="267.40" y2="471.70" stroke="#000" stroke-width="1.3" />
<rect x="63.30" y="412.00" width="5.00" height="4.80" fill="#000" stroke="none" stroke-width="1" />
<path d="M90.7,447.40000000000003 L92.9,449.8 L90.7,452.2 L88.5,449.8 Z" fill="#000"/>
<rect x="88.20" y="415.70" width="5.00" height="4.80" fill="#000" stroke="none" stroke-width="1" />
<path d="M115.6,452.0 L117.8,454.4 L115.6,456.79999999999995 L113.4,454.4 Z" fill="#000"/>
<rect x="113.10" y="422.80" width="5.00" height="4.80" fill="#000" stroke="none" stroke-width="1" />
<path d="M140.5,453.0 L142.7,455.4 L140.5,457.79999999999995 L138.3,455.4 Z" fill="#000"/>
<rect x="138.00" y="428.50" width="5.00" height="4.80" fill="#000" stroke="none" stroke-width="1" />
<path d="M165.4,457.8 L167.6,460.2 L165.4,462.59999999999997 L163.2,460.2 Z" fill="#000"/>
<rect x="162.90" y="433.70" width="5.00" height="4.80" fill="#000" stroke="none" stroke-width="1" />
<path d="M190.3,468.20000000000005 L192.5,470.6 L190.3,473.0 L188.1,470.6 Z" fill="#000"/>
<rect x="187.80" y="443.10" width="5.00" height="4.80" fill="#000" stroke="none" stroke-width="1" />
<path d="M215.2,465.6 L217.4,468.0 L215.2,470.4 L213.0,468.0 Z" fill="#000"/>
<rect x="212.70" y="441.30" width="5.00" height="4.80" fill="#000" stroke="none" stroke-width="1" />
<path d="M240.1,466.3 L242.3,468.7 L240.1,471.09999999999997 L237.9,468.7 Z" fill="#000"/>
<rect x="237.60" y="442.80" width="5.00" height="4.80" fill="#000" stroke="none" stroke-width="1" />
<path d="M265.0,466.5 L267.2,468.9 L265.0,471.29999999999995 L262.8,468.9 Z" fill="#000"/>
<rect x="262.50" y="444.00" width="5.00" height="4.80" fill="#000" stroke="none" stroke-width="1" />
<line x1="197.00" y1="386.80" x2="224.30" y2="386.80" stroke="#666" stroke-width="1.2" />
<path d="M210.5,384.9 L212.4,386.8 L210.5,388.7 L208.6,386.8 Z" fill="#000"/>
<text x="227.35" y="389.10" font-size="6.73" font-weight="normal" fill="#333" textLength="24.17" lengthAdjust="spacingAndGlyphs" stroke="#333" stroke-width="0.15">Ctrl DiR</text>
<line x1="197.00" y1="409.30" x2="224.30" y2="409.30" stroke="#8a8a8a" stroke-width="1.2" stroke-dasharray="1,0.8"/>
<rect x="208.60" y="407.50" width="4.30" height="3.90" fill="#000" stroke="none" stroke-width="1" />
<text x="226.81" y="411.60" font-size="7.27" font-weight="normal" fill="#333" textLength="25.06" lengthAdjust="spacingAndGlyphs" stroke="#333" stroke-width="0.15">N+B DiI</text>
</svg>
</body></html>
